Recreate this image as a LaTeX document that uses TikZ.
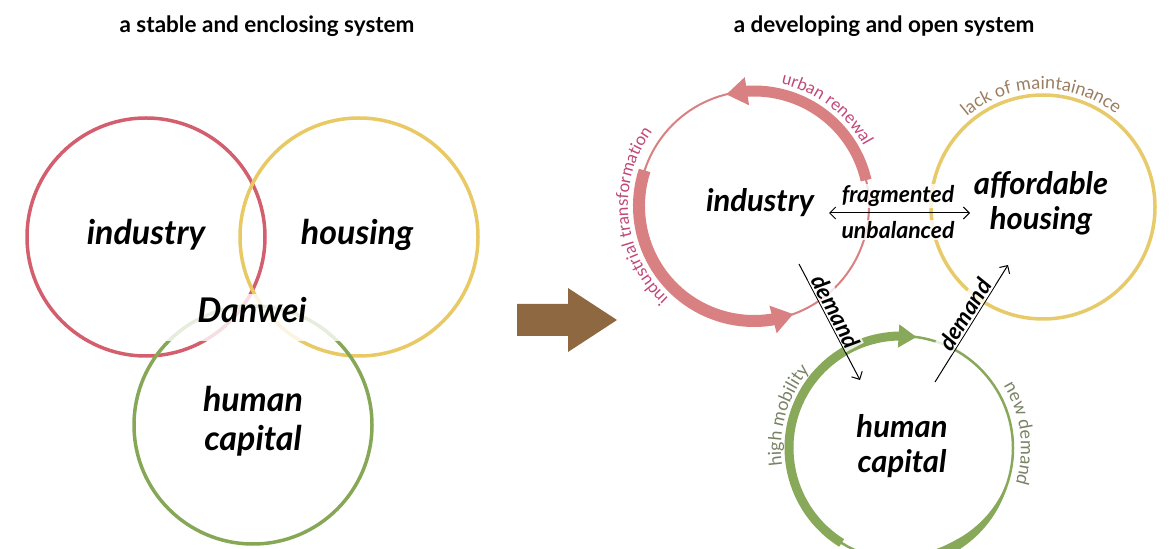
\documentclass[tikz,border=0pt]{standalone}
\usepackage{fontspec}
\setmainfont{Lato}
\usetikzlibrary{arrows.meta,bending,decorations.text,calc}
\definecolor{lred}{RGB}{211,95,110}
\definecolor{lyel}{RGB}{232,201,100}
\definecolor{lgrn}{RGB}{134,168,86}
\definecolor{rred}{RGB}{217,128,130}
\definecolor{rgrn}{RGB}{136,168,90}
\definecolor{ryel}{RGB}{231,202,106}
\definecolor{brn}{RGB}{141,104,64}
\definecolor{tred}{RGB}{192,72,120}
\definecolor{tbrn}{RGB}{155,125,95}
\definecolor{tgrn}{RGB}{120,130,100}
\begin{document}
\begin{tikzpicture}[x=1pt,y=1pt,
  ttl/.style={font=\fontsize{22.5}{24}\selectfont\bfseries, anchor=base, inner sep=0pt},
  big/.style={font=\fontsize{34}{36}\selectfont\bfseries\itshape, anchor=base, inner sep=0pt},
  mid/.style={font=\fontsize{31}{33}\selectfont\bfseries\itshape, anchor=base, inner sep=0pt},
  sml/.style={font=\fontsize{23}{25}\selectfont\bfseries\itshape, fill=white, fill opacity=0.8, text opacity=1, inner sep=1.5pt},
  ring/.style={line width=3.5},
  thin/.style={line width=2},
  curv/.style={decorate, decoration={text along path, text align=center, text={#1}}},
  barb/.style={-{Straight Barb[length=6pt,width=12pt]}, line width=1},
]
\useasboundingbox (0,0) rectangle (1173,549);

% ---------- left: stable system ----------
\node[ttl] (t1) at (267,516) {a stable and enclosing system};
\coordinate (lr) at (146,312);
\coordinate (ly) at (359,312);
\coordinate (lg) at (253,124);
\draw[lred, ring] (lr) circle[radius=119];
\draw[lyel, ring] (ly) circle[radius=119];
\draw[lgrn, ring] (lg) circle[radius=119];
\fill[white, opacity=0.8] (150,208) rectangle (355,255);
\node[big] (ind1) at (146,304) {industry};
\node[big] (hou1) at (357,304) {housing};
\node[big] (dan) at (252,226) {Danwei};
\node[big] (hum1) at (253,137) {human};
\node[big] (cap1) at (253,98) {capital};

% ---------- transition arrow ----------
\fill[brn] (517,213) -- (568,213) -- (568,197) -- (617,229) -- (568,261) -- (568,245) -- (517,245) -- cycle;

% ---------- right: developing system ----------
\node[ttl] (t2) at (884,516) {a developing and open system};
\coordinate (rr) at (754,343);
\coordinate (ry) at (1043,342);
\coordinate (rg) at (901,101);

% red ring
\draw[rred, thin] (rr) circle[radius=115];
\draw[rred, line width=11, -{Triangle[width=27pt,length=21pt]}] ([shift={(13:115)}]rr) arc[start angle=13, end angle=104, radius=115];
\draw[rred, line width=12, -{Triangle[width=27pt,length=21pt]}] ([shift={(162:115)}]rr) arc[start angle=162, end angle=290, radius=115];
\path[curv={|\fontsize{17}{19}\selectfont\color{tred}|urban renewal}] ([shift={(84:125)}]rr) arc[start angle=84, end angle=22, radius=125];
\path[curv={|\fontsize{17}{19}\selectfont\color{tred}|industrial transformation}] ([shift={(238:126)}]rr) arc[start angle=238, end angle=133, radius=126];

% yellow ring
\draw[ryel, ring] (ry) circle[radius=112];
\path[curv={|\fontsize{18}{20}\selectfont\color{tbrn}|lack of maintainance}] ([shift={(135:118)}]ry) arc[start angle=135, end angle=47, radius=118];

% green ring
\draw[rgrn, line width=2.5] (rg) circle[radius=112];
\draw[rgrn, line width=9, -{Triangle[width=22pt,length=18pt]}] ([shift={(238:112)}]rg) arc[start angle=238, end angle=82, radius=112];
\fill[rgrn] plot[domain=-20:-100,samples=50,variable=\t] ({901+(113+4*min(1,(-20-\t)/40))*cos(\t)},{101+(113+4*min(1,(-20-\t)/40))*sin(\t)})
  -- plot[domain=-100:-20,samples=50,variable=\t] ({901+(111-4*min(1,(-20-\t)/40))*cos(\t)},{101+(111-4*min(1,(-20-\t)/40))*sin(\t)}) -- cycle;
\path[curv={|\fontsize{18}{20}\selectfont\color{tgrn}|high mobility}] ([shift={(193:120)}]rg) arc[start angle=193, end angle=135, radius=120];
\path[curv={|\fontsize{18}{20}\selectfont\color{tgrn}|new demand}] ([shift={(35:120)}]rg) arc[start angle=35, end angle=-21, radius=120];

% labels
\node[mid] (ind2) at (760,337) {industry};
\node[mid] (aff) at (1041,354) {affordable};
\node[mid] (hou2) at (1041,319) {housing};
\node[mid] (hum2) at (902,111) {human};
\node[mid] (cap2) at (902,76) {capital};

% fragmented / unbalanced
\node[sml] (frag) at (898,353) {fragmented};
\node[sml] (unb) at (898,319) {unbalanced};
\coordinate (fa) at (829,336);
\coordinate (fb) at (970,336);
\draw[{Straight Barb[length=6pt,width=12pt]}-{Straight Barb[length=6pt,width=12pt]}, line width=1] (fa) -- (fb);

% demand arrows
\coordinate (d1a) at (799,285);
\coordinate (d1b) at (860,169);
\coordinate (d2a) at (935,167);
\coordinate (d2b) at (1008,284);
\draw[barb] (d1a) -- node[pos=0.45, sloped, above, sml] (dem1) {demand} (d1b);
\draw[barb] (d2a) -- node[pos=0.53, sloped, above, sml] (dem2) {demand} (d2b);
\end{tikzpicture}
\end{document}
